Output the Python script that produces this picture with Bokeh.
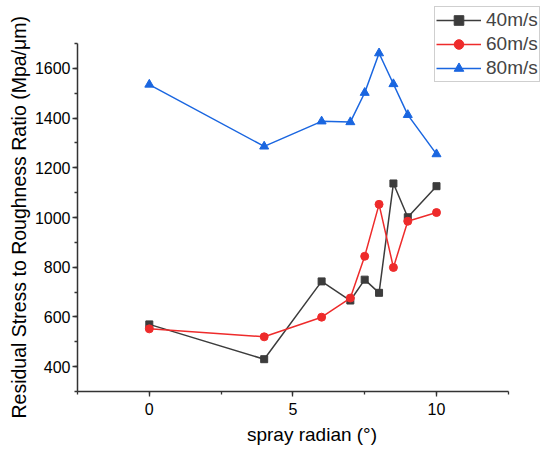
from bokeh.plotting import figure
from bokeh.models import Range1d, SingleIntervalTicker, Legend, LegendItem, Title
from bokeh.embed import file_html
from bokeh.resources import INLINE

# ---- data ----
radian = [0, 4, 6, 7, 7.5, 8, 8.5, 9, 10]
v40 = [570, 430, 743, 666, 750, 697, 1137, 1001, 1126]
v60 = [552, 520, 599, 676, 844, 1053, 799, 985, 1020]
v80 = [1535, 1286, 1387, 1384, 1502, 1661, 1537, 1413, 1255]
series_names = ["40m/s", "60m/s", "80m/s"]
x_label = "spray radian (°)"
y_label = "Residual Stress to Roughness Ratio (Mpa/μm)"

FONT = "Liberation Sans"
AXIS_COLOR = "#333333"

# axis extents; the frame is widened to the right/top so the legend is not clipped
X_MIN, X_MAX = -2.5, 12.5
Y_MIN, Y_MAX = 300, 1700
X_FRAME_END = 13.83
Y_FRAME_END = 1853

p = figure(width=550, height=459, output_backend="svg", toolbar_location=None,
           x_range=Range1d(X_MIN, X_FRAME_END), y_range=Range1d(Y_MIN, Y_FRAME_END),
           min_border_left=77, min_border_right=4, min_border_top=5, min_border_bottom=68)
p.background_fill_color = "white"
p.border_fill_color = "white"
p.outline_line_color = None
p.grid.visible = False

p.xaxis.ticker = SingleIntervalTicker(interval=5, num_minor_ticks=2)
p.yaxis.ticker = SingleIntervalTicker(interval=200, num_minor_ticks=2)
p.xaxis.bounds = (X_MIN, X_MAX)
p.yaxis.bounds = (Y_MIN, Y_MAX)

for ax in (p.xaxis, p.yaxis):
    ax.axis_line_color = AXIS_COLOR
    ax.axis_line_width = 1.5
    ax.major_tick_line_color = AXIS_COLOR
    ax.minor_tick_line_color = AXIS_COLOR
    ax.major_tick_line_width = 1.3
    ax.minor_tick_line_width = 1.3
    ax.major_tick_out = 5
    ax.major_tick_in = 0
    ax.minor_tick_out = 3
    ax.minor_tick_in = 0
    ax.major_label_text_font = FONT
    ax.major_label_text_font_size = "16px"
    ax.major_label_text_color = "black"

p.xaxis.major_label_standoff = 6
p.yaxis.major_label_standoff = 2
p.xaxis.axis_label = x_label
p.xaxis.axis_label_text_font = FONT
p.xaxis.axis_label_text_font_size = "19px"
p.xaxis.axis_label_text_font_style = "normal"
p.xaxis.axis_label_text_color = "black"
p.xaxis.axis_label_standoff = 6

colors = ["#3c3c3c", "#ee2b2b", "#1a66e0"]
markers = ["square", "circle", "triangle"]
sizes = [7, 8, 9]
items = []
for name, vals, c, m, s in zip(series_names, [v40, v60, v80], colors, markers, sizes):
    ln = p.line(radian, vals, line_color=c, line_width=1.5)
    sc = p.scatter(radian, vals, marker=m, size=s, fill_color=c, line_color=c)
    items.append(LegendItem(label=name, renderers=[ln, sc]))

legend = Legend(items=items, location=(357, 309), orientation="vertical",
                label_text_font=FONT, label_text_font_size="19px",
                glyph_width=45, glyph_height=24, label_height=24, label_standoff=5,
                spacing=0, padding=1, margin=0,
                border_line_color="#a0a0a0", border_line_width=1,
                background_fill_color="white", background_fill_alpha=1.0)
p.add_layout(legend, "center")

ytitle = Title(text=y_label, align="left", offset=-27, standoff=4,
               text_font=FONT, text_font_size="19.5px", text_font_style="normal",
               text_color="black")
p.add_layout(ytitle, "left")

open("out.html", "w").write(file_html(p, INLINE))
